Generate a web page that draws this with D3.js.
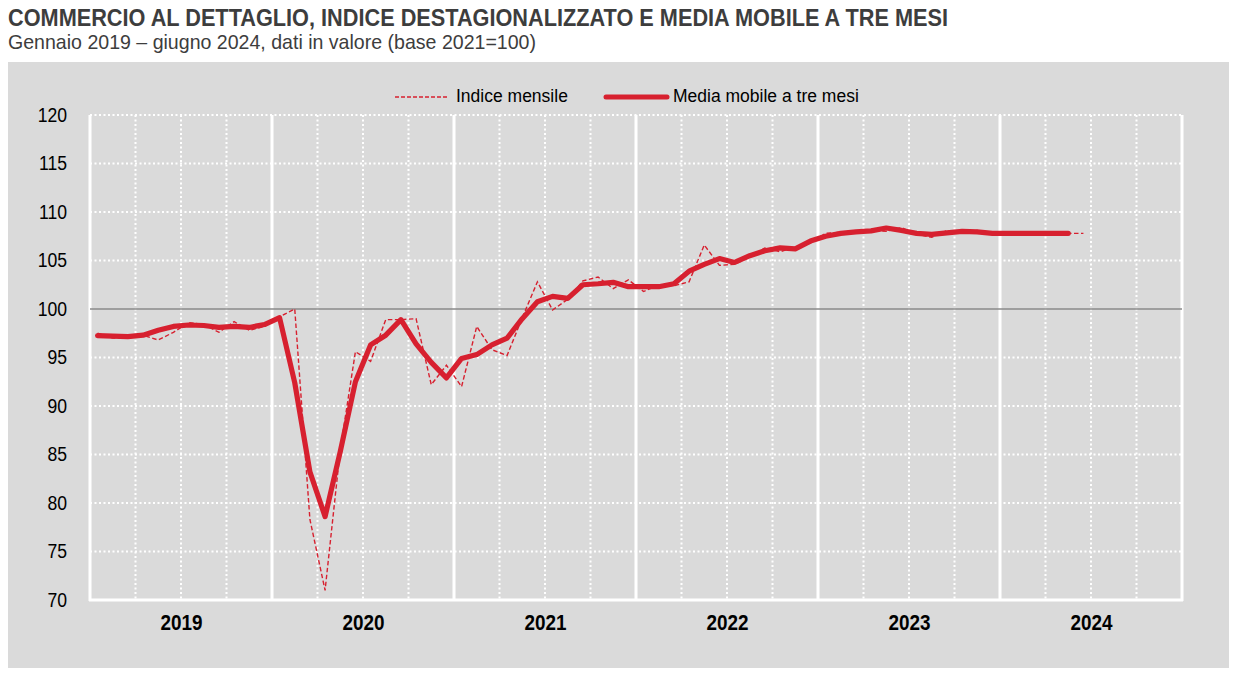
<!DOCTYPE html>
<html><head><meta charset="utf-8">
<script src="https://cdn.jsdelivr.net/npm/d3@7"></script>
<style>
body{margin:0;background:#fff}
text{font-family:"Liberation Sans","Arial",sans-serif}
</style>
</head><body>
<svg id="c" width="1235" height="675"></svg>
<script>
const years = ["2019","2020","2021","2022","2023","2024"];
const yTicks = [70,75,80,85,90,95,100,105,110,115,120];
const legendLabels = ["Indice mensile","Media mobile a tre mesi"];
const titleText = "COMMERCIO AL DETTAGLIO, INDICE DESTAGIONALIZZATO E MEDIA MOBILE A TRE MESI";
const subtitleText = "Gennaio 2019 \u2013 giugno 2024, dati in valore (base 2021=100)";

// Jan 2019 - Jun 2024
const indiceMensile = [
  97.5, 97.0, 97.1, 97.3, 96.8, 97.6, 98.6, 98.4, 97.6, 98.7, 97.8, 98.2,
  99.2, 100.0, 78.3, 71.0, 85.5, 95.6, 94.6, 98.9, 98.9, 99.0, 92.2, 94.2,
  92.0, 98.2, 95.8, 95.2, 99.1, 102.8, 99.9, 101.0, 102.9, 103.3, 102.1, 103.0,
  101.8, 102.5, 102.4, 102.8, 106.6, 104.5, 104.6, 105.4, 106.3, 105.9, 106.4, 106.8,
  107.8, 107.9, 107.8, 108.1, 108.0, 108.4, 107.7, 107.4, 108.1, 107.9, 108.1, 107.8,
  107.7, 107.8, 107.8, 107.8, 107.8, 107.8
];
// Jan 2019 - May 2024
const mediaMobile = [
  97.25, 97.2, 97.15, 97.3, 97.8, 98.2, 98.35, 98.3, 98.1, 98.2, 98.1, 98.4,
  99.1, 92.4, 83.2, 78.6, 85.3, 92.5, 96.3, 97.3, 98.9, 96.4, 94.5, 92.9,
  94.9, 95.3, 96.3, 97.0, 99.0, 100.75, 101.3, 101.1, 102.5, 102.6, 102.75, 102.3,
  102.3, 102.3, 102.6, 103.9, 104.6, 105.2, 104.8, 105.5, 106.0, 106.3, 106.2, 107.0,
  107.5, 107.8, 107.95, 108.05, 108.35, 108.1, 107.8, 107.7, 107.85, 108.0, 107.95, 107.8,
  107.8, 107.8, 107.8, 107.8, 107.8
];

const svg = d3.select("#c");
const L = 90, R = 1182, T = 115, B = 600;
const red = "#d7202f";

// panel
svg.append("rect").attr("x",8).attr("y",62).attr("width",1221).attr("height",606).attr("fill","#dadada");

// titles (condensed to match narrow face)
svg.append("text").attr("x",8).attr("y",26).attr("font-size",24).attr("font-weight","bold")
  .attr("fill","#3d3d3d").attr("textLength",940).attr("lengthAdjust","spacingAndGlyphs").text(titleText);
svg.append("text").attr("x",8).attr("y",49).attr("font-size",21)
  .attr("fill","#3d3d3d").attr("textLength",528).attr("lengthAdjust","spacingAndGlyphs").text(subtitleText);

const x = d3.scaleLinear().domain([0, years.length*12]).range([L, R]);
const y = d3.scaleLinear().domain([70,120]).range([B, T]);

const g = svg.append("g");
// horizontal dotted grid
g.selectAll("line.hg").data(yTicks.filter(v => v !== 70 && v !== 100)).join("line")
  .attr("x1",L).attr("x2",R).attr("y1",d=>y(d)).attr("y2",d=>y(d))
  .attr("stroke","#fff").attr("stroke-width",2).attr("stroke-dasharray","2,2.5");
// vertical dotted quarter lines
const quarters = d3.range(1, years.length*4).filter(q => q % 4 !== 0);
g.selectAll("line.vq").data(quarters).join("line")
  .attr("x1",d=>x(d*3)).attr("x2",d=>x(d*3)).attr("y1",T).attr("y2",B)
  .attr("stroke","#fff").attr("stroke-width",2).attr("stroke-dasharray","2,2.5");
// solid year lines
g.selectAll("line.vy").data(d3.range(0, years.length+1)).join("line")
  .attr("x1",d=>x(d*12)).attr("x2",d=>x(d*12)).attr("y1",T).attr("y2",B+1)
  .attr("stroke","#fff").attr("stroke-width",3);
// bottom axis line
g.append("line").attr("x1",L-1).attr("x2",R+1).attr("y1",y(70)).attr("y2",y(70))
  .attr("stroke","#fff").attr("stroke-width",3);
// 100 reference line
g.append("line").attr("x1",L).attr("x2",R).attr("y1",y(100)).attr("y2",y(100))
  .attr("stroke","#8a8a8a").attr("stroke-width",1.5);

// y axis labels
const yAxis = d3.axisLeft(y).tickValues(yTicks).tickSize(0).tickPadding(0).tickFormat(d3.format("d"));
const ya = svg.append("g").attr("transform",`translate(${L-23},0)`).call(yAxis);
ya.select(".domain").remove();
ya.selectAll("text").attr("font-size",20).attr("fill","#000")
  .attr("font-family",'"Liberation Sans",Arial,sans-serif')
  .each(function(){ const w=this.getComputedTextLength(); d3.select(this).attr("textLength",w*0.88).attr("lengthAdjust","spacingAndGlyphs"); });

// x axis year labels
const xAxis = d3.axisBottom(x).tickValues(years.map((d,i)=>i*12+6)).tickSize(0).tickPadding(0)
  .tickFormat((d,i)=>years[i]);
const xa = svg.append("g").attr("transform",`translate(0,${B+14})`).call(xAxis);
xa.select(".domain").remove();
xa.selectAll("text").attr("font-size",22.5).attr("font-weight","bold").attr("fill","#000")
  .attr("font-family",'"Liberation Sans",Arial,sans-serif')
  .attr("textLength",42).attr("lengthAdjust","spacingAndGlyphs");

// lines
const lineGen = d3.line().x((d,i)=>x(i+0.5)).y(d=>y(d)).curve(d3.curveLinear);
svg.append("path").datum(indiceMensile).attr("d",lineGen).attr("fill","none")
  .attr("stroke",red).attr("stroke-width",1.4).attr("stroke-dasharray","4.5,2.5");
svg.append("path").datum(mediaMobile).attr("d",lineGen).attr("fill","none")
  .attr("stroke",red).attr("stroke-width",5.2).attr("stroke-linejoin","round").attr("stroke-linecap","round");

// legend
const lg = svg.append("g");
lg.append("line").attr("x1",395).attr("x2",449).attr("y1",97).attr("y2",97)
  .attr("stroke",red).attr("stroke-width",1.3).attr("stroke-dasharray","4,2");
lg.append("text").attr("x",456).attr("y",102).attr("font-size",17.5).attr("fill","#000").text(legendLabels[0]);
lg.append("line").attr("x1",606).attr("x2",667).attr("y1",97).attr("y2",97)
  .attr("stroke",red).attr("stroke-width",5).attr("stroke-linecap","round");
lg.append("text").attr("x",673).attr("y",102).attr("font-size",17.5).attr("fill","#000").text(legendLabels[1]);
</script>
</body></html>
